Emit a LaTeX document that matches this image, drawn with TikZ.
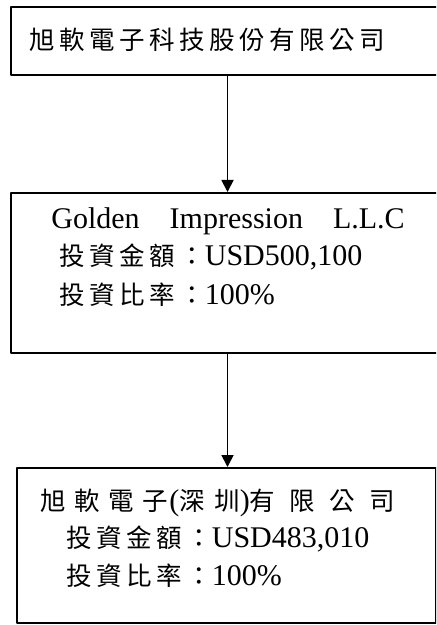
\documentclass[tikz,border=0pt]{standalone}
\usepackage{fontspec}
\setmainfont{Liberation Serif}
\newfontfamily\cjk[Scale=0.85,LetterSpace=17.6]{Noto Sans CJK TC}
\usetikzlibrary{arrows.meta}
\begin{document}
\begin{tikzpicture}[x=0.5pt,y=-0.5pt,>={Triangle[width=6pt,length=6pt]},line join=round,font=\fontsize{15pt}{19pt}\selectfont,
box/.style={draw,line width=1pt,inner sep=0pt,anchor=north west},
txt/.style={anchor=base west,inner sep=0pt}]
\useasboundingbox (0,0) rectangle (436,625);
\clip (0,0) rectangle (436,625);
% boxes
\node[box,minimum width=220pt,minimum height=34pt] (parent) at (10,6) {};
\node[box,minimum width=220pt,minimum height=80pt] (golden) at (9.5,192) {};
\node[box,minimum width=209.5pt,minimum height=77.5pt] (shenzhen) at (16,467) {};
% texts
\node[txt] (t1) at (29,50) {\cjk 旭軟電子科技股份有限公司};
\node[txt] (g1) at (51,229) {Golden\quad Impression\quad L.L.C};
\node[txt] (g2) at (59,266) {{\cjk 投資金額：}USD500,100};
\node[txt] (g3) at (59,305) {{\cjk 投資比率：}100\%};
\node[txt] (s1) at (40,510) {{\cjk 旭\kern4.25pt 軟\kern4.25pt 電\kern4.25pt 子}\kern0.75pt({\cjk 深\kern4.75pt 圳})\kern0pt{\cjk 有\kern7.25pt 限\kern7.25pt 公\kern7.25pt 司}};
\node[txt] (s2) at (66,547) {{\cjk 投資金額：}USD483,010};
\node[txt] (s3) at (66,585) {{\cjk 投資比率：}100\%};
% arrows
\coordinate (ax) at (227.5,0);
\draw[->,line width=0.9pt] (parent.south -| ax)--(golden.north -| ax);
\draw[->,line width=0.9pt] (golden.south -| ax)--(shenzhen.north -| ax);
\end{tikzpicture}
\end{document}
